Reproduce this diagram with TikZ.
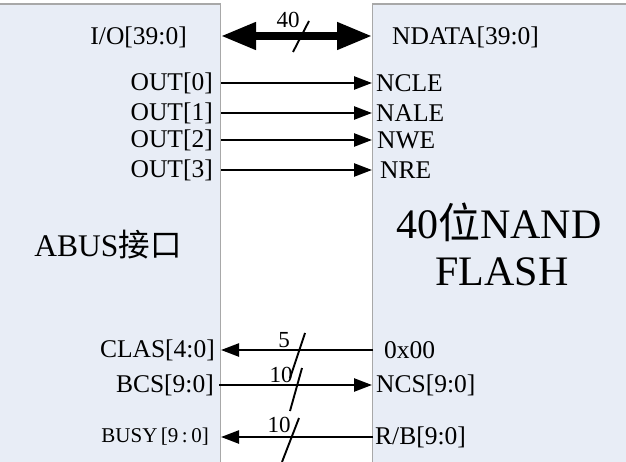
\documentclass[tikz,border=0pt]{standalone}
\usepackage{fontspec}
\setmainfont{Liberation Serif}
\newfontfamily\cjk{Noto Sans CJK SC}
\usetikzlibrary{arrows.meta}
\definecolor{boxfill}{HTML}{E8EDF6}
\definecolor{boxline}{HTML}{A8A8A8}
\begin{document}
\begin{tikzpicture}[x=1pt,y=-1pt,
  lbl/.style={inner sep=0pt,font=\fontsize{25.5}{30}\selectfont},
  numlbl/.style={inner sep=0pt,font=\fontsize{23}{27}\selectfont},
  big/.style={inner sep=0pt,font=\fontsize{42}{46}\selectfont},
  sig/.style={line width=2.4pt,-{Triangle[length=18pt,width=13pt]}},
  bus/.style={line width=7.5pt,{Triangle[length=35pt,width=26pt]}-{Triangle[length=35pt,width=26pt]}},
  slashline/.style={line width=1.9pt},
  boxst/.style={draw=boxline,fill=boxfill,line width=1.3pt}]
\useasboundingbox (0,0) rectangle (626,462);
\clip (0,0) rectangle (626,462);
\fill[white] (0,0) rectangle (626,462);
% boxes
\path[boxst] (-5,4) rectangle (220.5,480);
\path[boxst] (372.5,4) rectangle (640,480);
% edge coordinates
\coordinate (Lio) at (221,36);  \coordinate (Rio) at (372,36);
\coordinate (L0) at (221,83);   \coordinate (R0) at (372,83);
\coordinate (L1) at (221,113);  \coordinate (R1) at (372,113);
\coordinate (L2) at (221,140);  \coordinate (R2) at (372,140);
\coordinate (L3) at (221,170);  \coordinate (R3) at (372,170);
\coordinate (Lcl) at (221,350); \coordinate (Rcl) at (373,350);
\coordinate (Lcs) at (219,385); \coordinate (Rcs) at (372,385);
\coordinate (Lby) at (221,437); \coordinate (Rby) at (373,437);
% left labels
\node[lbl,anchor=east] (io) at (187,37) {I/O[39:0]};
\node[lbl,anchor=east] (o0) at (213,83) {OUT[0]};
\node[lbl,anchor=east] (o1) at (213,113) {OUT[1]};
\node[lbl,anchor=east] (o2) at (213,140) {OUT[2]};
\node[lbl,anchor=east] (o3) at (213,170) {OUT[3]};
\node[lbl,anchor=east] (clas) at (215,350) {CLAS[4:0]};
\node[lbl,anchor=east] (bcs) at (214,385) {BCS[9:0]};
\node[inner sep=0pt,anchor=east,font=\fontsize{21}{25}\selectfont] (busy) at (209,437) {BUSY\,[9\,:\,0]};
% right labels
\node[lbl,anchor=west] (nd) at (392,37) {NDATA[39:0]};
\node[lbl,anchor=west] (ncle) at (376,83) {NCLE};
\node[lbl,anchor=west] (nale) at (376,113) {NALE};
\node[lbl,anchor=west] (nwe) at (377,140) {NWE};
\node[lbl,anchor=west] (nre) at (380,170) {NRE};
\node[lbl,anchor=west] (zero) at (384,350) {0x00};
\node[lbl,anchor=west] (ncs) at (376,385) {NCS[9:0]};
\node[lbl,anchor=west] (rb) at (375,437) {R/B[9:0]};
% big labels
\node[inner sep=0pt,font=\fontsize{31.5}{36}\selectfont] (abus) at (108,245) {ABUS{\cjk 接口}};
\node[big] (nand) at (499,222) {40{\cjk 位}NAND};
\node[big] (flash) at (502,272) {FLASH};
% connectors
\draw[bus] (Lio) -- (Rio);
\draw[sig] (L0) -- (R0);
\draw[sig] (L1) -- (R1);
\draw[sig] (L2) -- (R2);
\draw[sig] (L3) -- (R3);
\draw[sig] (Rcl) -- (Lcl);
\draw[sig] (Lcs) -- (Rcs);
\draw[sig] (Rby) -- (Lby);
% bus width slashes
\coordinate (s1a) at (293,52);  \coordinate (s1b) at (309,21);
\draw[slashline] (s1a) -- (s1b);
\node[numlbl] (w40) at (288,20) {40};
\coordinate (s2a) at (290,378); \coordinate (s2b) at (305,333);
\draw[slashline] (s2a) -- (s2b);
\node[numlbl] (w5) at (284,340) {5};
\coordinate (s3a) at (290,411); \coordinate (s3b) at (302,368);
\draw[slashline] (s3a) -- (s3b);
\node[numlbl] (w10a) at (281,375) {10};
\coordinate (s4a) at (282,462); \coordinate (s4b) at (299,418);
\draw[slashline] (s4a) -- (s4b);
\node[numlbl] (w10b) at (279,425) {10};
\end{tikzpicture}
\end{document}
